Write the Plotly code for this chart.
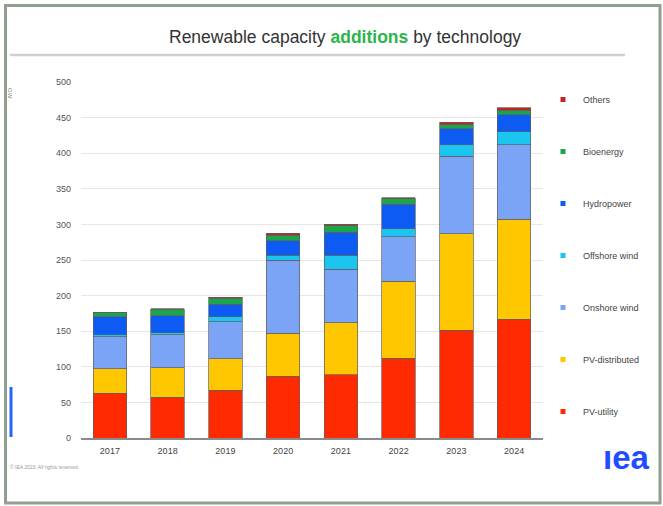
import plotly.graph_objects as go

years = ["2017", "2018", "2019", "2020", "2021", "2022", "2023", "2024"]

pv_utility = [63, 57, 67, 87, 89, 112, 151, 167]
pv_distributed = [34, 42, 44, 60, 73, 108, 136, 140]
onshore_wind = [45, 46, 52, 103, 75, 63, 109, 105]
offshore_wind = [3, 3, 7, 7, 20, 11, 16, 18]
hydropower = [25, 24, 18, 20, 32, 34, 22, 24]
bioenergy = [6, 9, 8, 8, 9, 8, 6, 6]
others = [0.5, 0.5, 1.5, 2.5, 2, 1.5, 3.5, 4]

series_names = ["PV-utility", "PV-distributed", "Onshore wind", "Offshore wind",
                "Hydropower", "Bioenergy", "Others"]
series_values = [pv_utility, pv_distributed, onshore_wind, offshore_wind,
                 hydropower, bioenergy, others]
series_colors = ["#ff2a00", "#ffc700", "#7ba3f6", "#1cc4f0", "#0d5bf2", "#1ca64c", "#c0281e"]

y_ticks = [0, 50, 100, 150, 200, 250, 300, 350, 400, 450, 500]

fig = go.Figure()
n = len(series_names)
for i, (name, vals, col) in enumerate(zip(series_names, series_values, series_colors)):
    fig.add_trace(go.Bar(
        x=years, y=vals, name=name, legendgroup=name, showlegend=False,
        marker=dict(color=col, line=dict(color="#5f5f5f", width=0.7)),
    ))
    fig.add_trace(go.Scatter(
        x=[None], y=[None], mode="markers", name=name, legendgroup=name,
        legendrank=n - i,
        marker=dict(symbol="square", size=5, color=col), showlegend=True,
    ))

W, H = 663, 506
L, R, T, B = 81, 120, 82, 68
pw, ph = W - L - R, H - T - B


def px(x):
    return (x - L) / pw


def py(y):
    return (H - B - y) / ph


shapes = [
    # outer frame
    dict(type="rect", xref="paper", yref="paper", x0=px(5.5), x1=px(660), y0=py(503), y1=py(5.5),
         line=dict(color="#8fa08f", width=3), layer="above"),
    # line under title
    dict(type="line", xref="paper", yref="paper", x0=px(10), x1=px(625), y0=py(55), y1=py(55),
         line=dict(color="#cfcfcf", width=2.5)),
    # blue accent bar
    dict(type="rect", xref="paper", yref="paper", x0=px(9.5), x1=px(12.5), y0=py(437), y1=py(387),
         line=dict(width=0), fillcolor="#2563ff"),
]

annotations = [
    dict(text='Renewable capacity <span style="color:#2bb54b"><b>additions</b></span> by technology',
         xref="paper", yref="paper", x=px(345), y=py(37), showarrow=False,
         font=dict(family="Liberation Sans, Arial", size=17.5, color="#333333"),
         xanchor="center", yanchor="middle"),
    dict(text="GW", xref="paper", yref="paper", x=px(10), y=py(93), showarrow=False, textangle=90,
         font=dict(family="Liberation Sans, Arial", size=6, color="#888888"),
         xanchor="center", yanchor="middle"),
    dict(text="© IEA 2023. All rights reserved.", xref="paper", yref="paper", x=px(8), y=py(467),
         showarrow=False, font=dict(family="Liberation Sans, Arial", size=5, color="#9a9a9a"),
         xanchor="left", yanchor="middle"),
    dict(text="<b>ıea</b>", xref="paper", yref="paper", x=px(626), y=py(458), showarrow=False,
         font=dict(family="Liberation Sans, Arial", size=33, color="#1f4eff"),
         xanchor="center", yanchor="middle"),
]

fig.update_layout(
    width=W, height=H,
    margin=dict(l=L, r=R, t=T, b=B, autoexpand=False),
    paper_bgcolor="white", plot_bgcolor="white",
    barmode="stack", bargap=0.423,
    font=dict(family="Liberation Sans, Arial", size=9, color="#555555"),
    showlegend=True,
    legend=dict(
        x=px(543), y=py(85), xanchor="left", yanchor="top",
        traceorder="grouped", tracegroupgap=33,
        font=dict(size=9, color="#444444"), bgcolor="rgba(0,0,0,0)",
        itemclick=False, itemdoubleclick=False,
    ),
    shapes=shapes,
    annotations=annotations,
    xaxis=dict(
        showgrid=False, showline=True, linecolor="#8a8a8a", linewidth=1.5,
        ticks="", tickfont=dict(size=9, color="#444444"), fixedrange=True,
        ticklabelstandoff=3,
    ),
    yaxis=dict(
        range=[0, 500], tickvals=y_ticks, showgrid=True, gridcolor="#e6e6e6", gridwidth=1,
        zeroline=False, showline=False, ticks="", tickfont=dict(size=9, color="#555555"),
        ticklabelstandoff=9, fixedrange=True,
    ),
)

fig.write_html(
    "out.html",
    config={"displayModeBar": False},
    post_script="document.body.style.margin='0';document.body.style.overflow='hidden';",
)
